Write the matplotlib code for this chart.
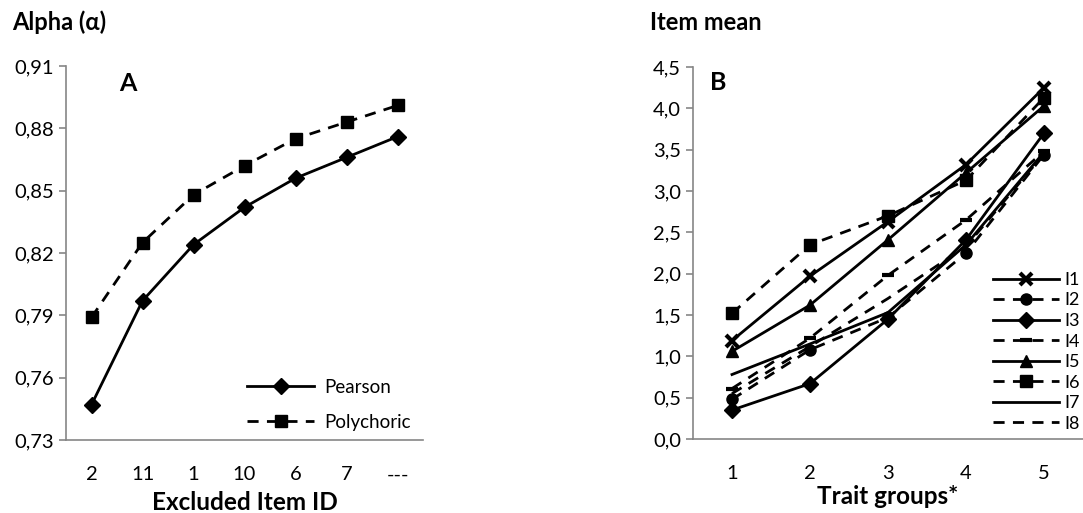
import matplotlib

matplotlib.use("Agg")
import matplotlib.pyplot as plt
from matplotlib.ticker import FuncFormatter

plt.rcParams["font.family"] = ["Lato", "DejaVu Sans"]

# Panel A: alpha when an item is excluded
excluded_items = ["2", "11", "1", "10", "6", "7", "---"]
alpha_pearson = [0.747, 0.797, 0.824, 0.842, 0.856, 0.866, 0.876]
alpha_polychoric = [0.789, 0.825, 0.848, 0.862, 0.875, 0.883, 0.891]

# Panel B: item means per trait group
trait_groups = [1, 2, 3, 4, 5]
item_names = ["I1", "I2", "I3", "I4", "I5", "I6", "I7", "I8"]
item_means = [
    [1.19, 1.97, 2.63, 3.32, 4.25],
    [0.48, 1.08, 1.47, 2.25, 3.44],
    [0.35, 0.67, 1.45, 2.41, 3.70],
    [0.61, 1.22, 1.98, 2.65, 3.48],
    [1.06, 1.62, 2.41, 3.22, 4.03],
    [1.52, 2.35, 2.70, 3.13, 4.13],
    [0.78, 1.15, 1.53, 2.35, 3.47],
    [0.55, 1.12, 1.70, 2.33, 3.45],
]

GRAY = "#868686"
DASH = (0, (4, 3))
item_styles = [
    ("-", "x"), ("--", "o"), ("-", "D"), ("--", "_"),
    ("-", "^"), ("--", "s"), ("-", None), ("--", None),
]

W, H = 1083, 513
fig = plt.figure(figsize=(W / 100, H / 100), dpi=100)


def style_axes(ax):
    for side in ("top", "right"):
        ax.spines[side].set_visible(False)
    for side in ("left", "bottom"):
        ax.spines[side].set_color(GRAY)
        ax.spines[side].set_linewidth(1.2)
    ax.tick_params(axis="y", colors=GRAY, labelcolor="black", length=5, width=1.2, labelsize=14.5)
    ax.tick_params(axis="x", length=0, labelsize=14.5, pad=19)


def comma(fmt):
    return FuncFormatter(lambda v, _: format(v, fmt).replace(".", ","))


# --- A ---
axA = fig.add_axes([66 / W, 73 / H, 357 / W, 374 / H])
xa = range(len(excluded_items))
axA.plot(xa, alpha_pearson, color="black", lw=2, marker="D", ms=8, label="Pearson")
axA.plot(xa, alpha_polychoric, color="black", lw=2, ls=DASH, marker="s", ms=8, label="Polychoric")
axA.set_xlim(-0.5, len(excluded_items) - 0.5)
axA.set_ylim(0.73, 0.91)
axA.set_yticks([0.73, 0.76, 0.79, 0.82, 0.85, 0.88, 0.91])
axA.yaxis.set_major_formatter(comma(".2f"))
axA.set_xticks(list(xa), excluded_items)
style_axes(axA)
axA.text(0.174, 0.952, "A", transform=axA.transAxes, fontsize=18, fontweight="bold",
         ha="center", va="center")
axA.legend(loc="lower left", frameon=False, fontsize=13.5, handlelength=3.6, labelspacing=0.95,
           handletextpad=0.5, borderpad=0, borderaxespad=0, bbox_to_anchor=(0.507, 0.025))
fig.text(245 / W, 1 - 503 / H, "Excluded Item ID", fontsize=17.5, fontweight="bold",
         ha="center", va="center")
fig.text(12 / W, 1 - 22 / H, "Alpha (α)", fontsize=17, fontweight="bold", va="center")

# --- B ---
axB = fig.add_axes([693 / W, 74 / H, 390 / W, 372 / H])
for name, vals, (ls, mk) in zip(item_names, item_means, item_styles):
    axB.plot(trait_groups, vals, color="black", lw=2, ls=DASH if ls == "--" else "-",
             marker=mk, ms=9 if mk == "_" else 8, mew=3 if mk in ("_", "x") else 1, label=name)
axB.set_xlim(0.5, 5.5)
axB.set_ylim(0, 4.5)
axB.set_yticks([0, 0.5, 1, 1.5, 2, 2.5, 3, 3.5, 4, 4.5])
axB.yaxis.set_major_formatter(comma(".1f"))
axB.set_xticks(trait_groups)
style_axes(axB)
axB.text(0.064, 0.957, "B", transform=axB.transAxes, fontsize=18, fontweight="bold",
         ha="center", va="center")
axB.legend(loc="lower left", frameon=False, fontsize=13, handlelength=3.7, labelspacing=0.25,
           handletextpad=0.3, borderpad=0, borderaxespad=0, bbox_to_anchor=(0.768, 0.02))
fig.text(888 / W, 1 - 496 / H, "Trait groups*", fontsize=17.5, fontweight="bold",
         ha="center", va="center")
fig.text(650 / W, 1 - 22 / H, "Item mean", fontsize=17, fontweight="bold", va="center")

fig.savefig("out.png", dpi=100, facecolor="white")
